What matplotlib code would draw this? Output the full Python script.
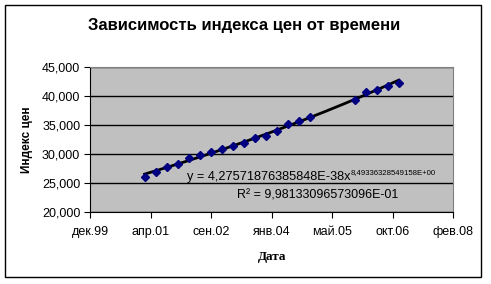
# Price index over time (quarterly) with power trendline, Excel-like look
import numpy as np
import pandas as pd
import matplotlib
matplotlib.use("Agg")
import matplotlib.pyplot as plt
import matplotlib.dates as mdates
from matplotlib.patches import Rectangle

plt.rcParams['font.family'] = ['Liberation Sans', 'DejaVu Sans']

dates = ["2001-03-01", "2001-06-01", "2001-09-01", "2001-12-01",
         "2002-03-01", "2002-06-01", "2002-09-01", "2002-12-01",
         "2003-03-01", "2003-06-01", "2003-09-01", "2003-12-01",
         "2004-03-01", "2004-06-01", "2004-09-01", "2004-12-01",
         "2005-12-01", "2006-03-01", "2006-06-01", "2006-09-01",
         "2006-12-01"]
index_values = [26130, 26990, 27750, 28270, 29400, 29860, 30330, 30840,
                31410, 31980, 32840, 33130, 34040, 35190, 35760, 36440,
                39310, 40640, 41030, 41770, 42290]

tick_dates = ["1999-12-06", "2001-04-19", "2002-09-01", "2004-01-14",
              "2005-05-28", "2006-10-10", "2008-02-22"]
tick_labels = ["дек.99", "апр.01", "сен.02", "янв.04", "май.05", "окт.06", "фев.08"]

equation_text = "y = 4,27571876385848E-38x"
equation_power = "8,49336328549158E+00"
r2_text = "R² = 9,98133096573096E-01"

x = mdates.date2num(pd.to_datetime(dates))
y = np.array(index_values, dtype=float)

fig = plt.figure(figsize=(4.91, 2.84), dpi=100)
fig.patches.append(Rectangle((5 / 491, 1 - 277 / 284), 476 / 491, 272 / 284,
                             transform=fig.transFigure, fill=False,
                             ec='black', lw=1))

ax = fig.add_axes([90 / 491, 1 - 212.4 / 284, 363 / 491, 145.4 / 284])
ax.set_facecolor('#C0C0C0')

# power trendline fitted on Excel serial days
serial = x + 25569
b, log_a = np.polyfit(np.log(serial), np.log(y), 1)
xs = np.linspace(serial.min(), serial.max(), 200)
ax.plot(xs - 25569, np.exp(log_a) * xs ** b, color='black', lw=2, zorder=3)

ax.plot(x, y, linestyle='none', marker='D', markersize=3.8,
        color='#000080', zorder=4)

ticks = mdates.date2num(pd.to_datetime(tick_dates))
ax.set_xlim(ticks[0], ticks[-1])
ax.set_xticks(ticks)
ax.set_xticklabels(tick_labels)
ax.set_ylim(20000, 45000)
ax.set_yticks(range(20000, 45001, 5000))
ax.set_yticklabels([f"{v:,}" for v in range(20000, 45001, 5000)])

ax.yaxis.grid(True, color='black', lw=1)
ax.set_axisbelow(True)
for side in ['top', 'right']:
    ax.spines[side].set_color('#808080')
for side in ['left', 'bottom']:
    ax.spines[side].set_color('black')
ax.tick_params(direction='out', length=4, labelsize=9, pad=3)
ax.tick_params(axis='x', pad=6)

fig.text(244 / 491, 1 - 30 / 284, "Зависимость индекса цен от времени",
         ha='center', va='baseline', fontsize=12, fontweight='bold')
fig.text(27 / 491, 1 - 140 / 284, "Индекс цен", rotation=90,
         ha='center', va='center', fontsize=8.5, fontweight='bold')
fig.text(272 / 491, 1 - 257 / 284, "Дата", ha='center', va='center',
         fontsize=9.5, fontweight='bold', family='Liberation Serif')

eq = fig.text(187 / 491, 1 - 180 / 284, equation_text, ha='left',
              va='baseline', fontsize=9.2)
ax.annotate(equation_power, xy=(1.0, 0.55), xycoords=eq, ha='left',
            va='bottom', fontsize=5.6, annotation_clip=False)
fig.text(237 / 491, 1 - 198 / 284, r2_text, ha='left', va='baseline',
         fontsize=9)

fig.savefig("out.png", dpi=100)
